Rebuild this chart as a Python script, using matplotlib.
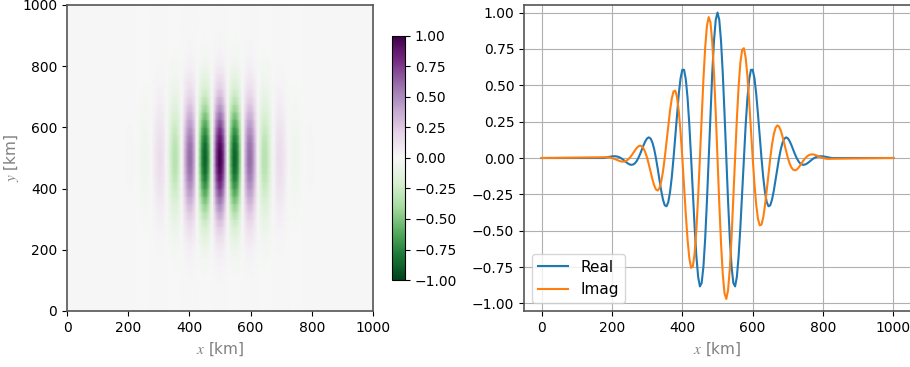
import numpy as np
import matplotlib
matplotlib.use("Agg")
import matplotlib.pyplot as plt
from matplotlib.ticker import FuncFormatter

plt.rcParams['mathtext.fontset'] = 'stix'

# x positions of the wave packet samples [km]
x_km = [0] + list(range(175, 826, 5)) + [1000]

# real part along y = 500 km
real_part = [0.000,
    0.000, 0.002, 0.004, 0.007, 0.009, 0.011, 0.012, 0.012, 0.010, 0.006,
    0.000, -0.008, -0.018, -0.028, -0.037, -0.044, -0.047, -0.045, -0.037, -0.022,
    0.000, 0.027, 0.058, 0.089, 0.116, 0.135, 0.142, 0.133, 0.106, 0.061,
    0.000, -0.073, -0.151, -0.225, -0.286, -0.325, -0.332, -0.304, -0.236, -0.133,
    0.000, 0.150, 0.303, 0.442, 0.548, 0.607, 0.606, 0.540, 0.410, 0.224,
    0.000, -0.242, -0.476, -0.676, -0.818, -0.883, -0.859, -0.747, -0.553, -0.295,
    0.000, 0.303, 0.581, 0.805, 0.950, 1.000,
    0.950, 0.805, 0.581, 0.303, 0.000, -0.295, -0.553, -0.747, -0.859, -0.883,
    -0.818, -0.676, -0.476, -0.242, 0.000, 0.224, 0.410, 0.540, 0.606, 0.607,
    0.548, 0.442, 0.303, 0.150, 0.000, -0.133, -0.236, -0.304, -0.332, -0.325,
    -0.286, -0.225, -0.151, -0.073, 0.000, 0.061, 0.106, 0.133, 0.142, 0.135,
    0.116, 0.089, 0.058, 0.027, 0.000, -0.022, -0.037, -0.045, -0.047, -0.044,
    -0.037, -0.028, -0.018, -0.008, 0.000, 0.006, 0.010, 0.012, 0.012, 0.011,
    0.009, 0.007, 0.004, 0.002, 0.000,
    0.000]

# imaginary part along y = 500 km
imag_part = [0.000,
    0.005, 0.006, 0.006, 0.005, 0.003, 0.000, -0.004, -0.009, -0.014, -0.019,
    -0.023, -0.025, -0.024, -0.020, -0.012, 0.000, 0.015, 0.033, 0.051, 0.068,
    0.080, 0.085, 0.080, 0.065, 0.038, 0.000, -0.046, -0.097, -0.146, -0.188,
    -0.216, -0.224, -0.207, -0.163, -0.093, 0.000, 0.108, 0.221, 0.325, 0.409,
    0.458, 0.463, 0.418, 0.321, 0.178, 0.000, -0.197, -0.392, -0.564, -0.691,
    -0.755, -0.744, -0.655, -0.491, -0.266, 0.000, 0.279, 0.543, 0.761, 0.909,
    0.969, 0.932, 0.800, 0.585, 0.309, 0.000,
    -0.309, -0.585, -0.800, -0.932, -0.969, -0.909, -0.761, -0.543, -0.279, 0.000,
    0.266, 0.491, 0.655, 0.744, 0.755, 0.691, 0.564, 0.392, 0.197, 0.000,
    -0.178, -0.321, -0.418, -0.463, -0.458, -0.409, -0.325, -0.221, -0.108, 0.000,
    0.093, 0.163, 0.207, 0.224, 0.216, 0.188, 0.146, 0.097, 0.046, 0.000,
    -0.038, -0.065, -0.080, -0.085, -0.080, -0.068, -0.051, -0.033, -0.015, 0.000,
    0.012, 0.020, 0.024, 0.025, 0.023, 0.019, 0.014, 0.009, 0.004, 0.000,
    -0.003, -0.005, -0.006, -0.006, -0.005,
    0.000]

# y positions [km] and envelope of the field in y (left panel)
y_km = list(range(0, 1001, 25))
env_y = [0.001, 0.001, 0.003, 0.005, 0.009, 0.016, 0.027, 0.044, 0.070, 0.107,
         0.157, 0.224, 0.306, 0.404, 0.514, 0.630, 0.744, 0.847, 0.929, 0.982,
         1.000,
         0.982, 0.929, 0.847, 0.744, 0.630, 0.514, 0.404, 0.306, 0.224, 0.157,
         0.107, 0.070, 0.044, 0.027, 0.016, 0.009, 0.005, 0.003, 0.001, 0.001]

cbar_ticks = [-1.0, -0.75, -0.5, -0.25, 0.0, 0.25, 0.5, 0.75, 1.0]
y_ticks = [-1.0, -0.75, -0.5, -0.25, 0.0, 0.25, 0.5, 0.75, 1.0]

field = np.outer(env_y, real_part)

fmt2 = FuncFormatter(lambda v, pos: ('%.2f' % v).replace('-', '\u2212'))

W, H = 910, 367
fig = plt.figure(figsize=(W / 100, H / 100), dpi=100)

spine_col = '#555555'
lab_col = 'gray'

# left: 2d field
ax1 = fig.add_axes([67 / W, 56 / H, 306 / W, 306 / H])
X, Y = np.meshgrid(x_km, y_km)
pc = ax1.pcolormesh(X, Y, field, cmap='PRGn_r', vmin=-1, vmax=1, shading='gouraud')
ax1.set_xlim(0, 1000)
ax1.set_ylim(0, 1000)
ax1.set_xlabel(r'$x$ [km]', color=lab_col, fontsize=11)
ax1.set_ylabel(r'$y$ [km]', color=lab_col, fontsize=11)
ax1.yaxis.set_label_coords(-0.150, 0.5)
for s in ax1.spines.values():
    s.set_color(spine_col)
    s.set_linewidth(1.2)

cax = fig.add_axes([392 / W, 87 / H, 13 / W, 244 / H])
cb = fig.colorbar(pc, cax=cax, ticks=cbar_ticks, format=fmt2)

# right: line plot
ax2 = fig.add_axes([524 / W, 56 / H, 387 / W, 306 / H])
ax2.plot(x_km, real_part, label='Real')
ax2.plot(x_km, imag_part, label='Imag')
ax2.set_ylim(-1.052, 1.052)
ax2.set_yticks(y_ticks)
ax2.yaxis.set_major_formatter(fmt2)
ax2.set_xticks([0, 200, 400, 600, 800, 1000])
ax2.grid(True)
ax2.legend(loc='lower left', fontsize=11)
ax2.set_xlabel(r'$x$ [km]', color=lab_col, fontsize=11)
for s in ax2.spines.values():
    s.set_color(spine_col)
    s.set_linewidth(1.2)

fig.savefig('out.png', dpi=100)
